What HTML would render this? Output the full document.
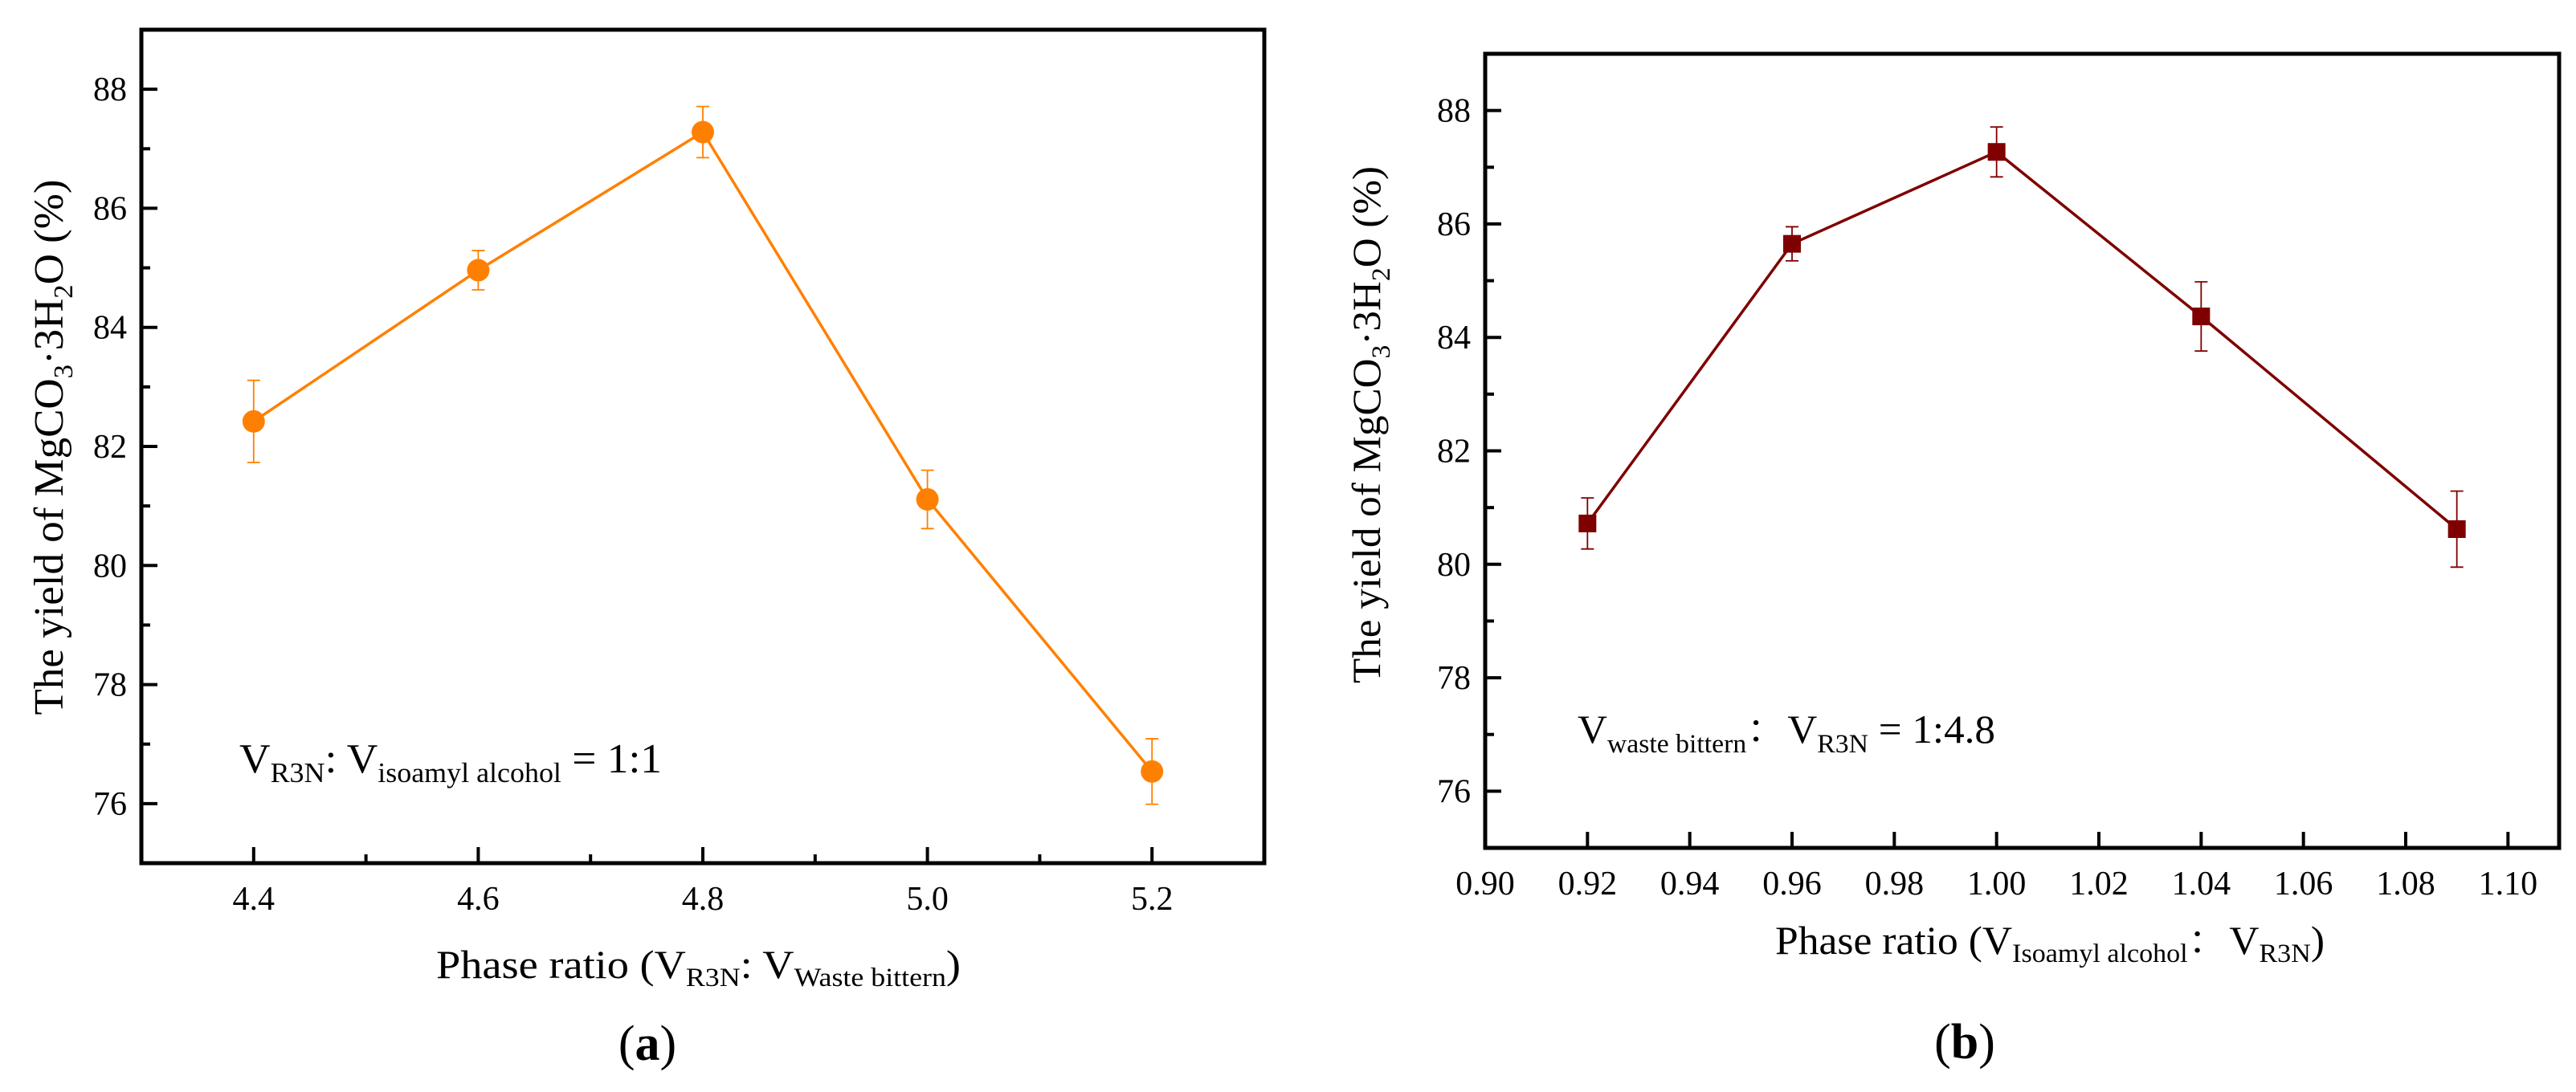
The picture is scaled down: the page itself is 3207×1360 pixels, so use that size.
<!DOCTYPE html>
<html><head><meta charset="utf-8"><style>
html,body{margin:0;padding:0;background:#fff;}
svg, svg text, svg tspan{font-family:"Liberation Serif","Noto Serif CJK SC",serif;}
</style></head><body>
<svg id="fig" width="3207" height="1355" viewBox="0 0 3207 1355" xmlns="http://www.w3.org/2000/svg" font-family="Liberation Serif, serif">
<g id="pa"></g>
<g id="pb"></g>
</svg>
<script>
// Panel a data
const aX = [4.4, 4.6, 4.8, 5.0, 5.2];
const aY = [82.42, 84.96, 87.28, 81.11, 76.54];
const aErr = [0.69, 0.33, 0.43, 0.49, 0.55];
const aXTicks = ["4.4","4.6","4.8","5.0","5.2"];
const aYTicks = ["76","78","80","82","84","86","88"];
// Panel b data
const bX = [0.92, 0.96, 1.00, 1.04, 1.09];
const bY = [80.72, 85.65, 87.27, 84.37, 80.62];
const bErr = [0.45, 0.30, 0.44, 0.61, 0.67];
const bXTicks = ["0.90","0.92","0.94","0.96","0.98","1.00","1.02","1.04","1.06","1.08","1.10"];
const bYTicks = ["76","78","80","82","84","86","88"];

const NS="http://www.w3.org/2000/svg";
function mk(parent, tag, attrs){const e=document.createElementNS(NS,tag);for(const k in attrs)e.setAttribute(k,attrs[k]);parent.appendChild(e);return e;}

function drawPanel(g, cfg, xs, ys, errs, xticks, yticks){
  const sx=v=>cfg.L+(v-cfg.x0)/(cfg.x1-cfg.x0)*(cfg.R-cfg.L);
  const sy=v=>cfg.B-(v-cfg.y0)/(cfg.y1-cfg.y0)*(cfg.B-cfg.T);
  for(let i=0;i<xticks.length;i++){
    const v=parseFloat(xticks[i]); const x=sx(v);
    const t=mk(g,'line',{x1:x,x2:x,y1:cfg.B,y2:cfg.B-20,stroke:'#000','stroke-width':4});
    
    
    const lb=mk(g,'text',{x:x,y:cfg.B+58,'font-size':42,'text-anchor':'middle','font-family':'Liberation Serif, serif'});
    lb.textContent=xticks[i];
    
    
  }
  for(const mv of cfg.xminor){
    const x=sx(mv);
    const t=mk(g,'line',{x1:x,x2:x,y1:cfg.B,y2:cfg.B-11,stroke:'#000','stroke-width':4});
    
    
  }
  for(let i=0;i<yticks.length;i++){
    const v=parseFloat(yticks[i]); const y=sy(v);
    const t=mk(g,'line',{x1:cfg.L,x2:cfg.L+20,y1:y,y2:y,stroke:'#000','stroke-width':4});
    
    
    const m=mk(g,'line',{x1:cfg.L,x2:cfg.L+11,y1:sy(v+1),y2:sy(v+1),stroke:'#000','stroke-width':4});
    
    
    const lb=mk(g,'text',{x:cfg.L-18,y:y+14,'font-size':42,'text-anchor':'end','font-family':'Liberation Serif, serif'});
    lb.textContent=yticks[i];
    
    
  }
  const pts=xs.map((v,i)=>sx(v)+','+sy(ys[i])).join(' ');
  const pl=mk(g,'polyline',{points:pts,fill:'none',stroke:cfg.color,'stroke-width':3.5});
  
  
  for(let i=0;i<xs.length;i++){
    const x=sx(xs[i]), y=sy(ys[i]), yt=sy(ys[i]+errs[i]), yb=sy(ys[i]-errs[i]);
    const eb=mk(g,'path',{d:`M${x},${yt}V${yb}M${x-8},${yt}H${x+8}M${x-8},${yb}H${x+8}`,stroke:cfg.color,'stroke-width':1.8,fill:'none'});
    
    
    let mkr;
    if(cfg.marker==='circle'){mkr=mk(g,'circle',{cx:x,cy:y,r:14,fill:cfg.color});}
    else{mkr=mk(g,'rect',{x:x-11,y:y-11,width:22,height:22,fill:cfg.color});}
    
    
  }
  const fr=mk(g,'rect',{x:cfg.L,y:cfg.T,width:cfg.R-cfg.L,height:cfg.B-cfg.T,fill:'none',stroke:'#000','stroke-width':5});
  
  
}

drawPanel(document.getElementById('pa'),
  {L:176,R:1574,T:37,B:1075,x0:4.3,x1:5.3,y0:75,y1:89,color:'#FF8000',marker:'circle',xminor:[4.5,4.7,4.9,5.1]},
  aX,aY,aErr,aXTicks,aYTicks);
drawPanel(document.getElementById('pb'),
  {L:1849,R:3186,T:67,B:1056,x0:0.90,x1:1.11,y0:75,y1:89,color:'#7F0000',marker:'square',xminor:[]},
  bX,bY,bErr,bXTicks,bYTicks);
</script>
<script>
(function(){
const svg=document.getElementById('fig');
svg.insertAdjacentHTML('beforeend',`
<g font-family="Liberation Serif, Noto Serif CJK SC, serif">
<text transform="translate(78,557) rotate(-90)" text-anchor="middle" font-size="52" textLength="667" lengthAdjust="spacingAndGlyphs">The yield of MgCO<tspan font-size="34" dy="12">3</tspan><tspan dy="-12">·3H</tspan><tspan font-size="34" dy="12">2</tspan><tspan dy="-12">O (%)</tspan></text>
<text x="543" y="1218" font-size="50" textLength="653" lengthAdjust="spacingAndGlyphs">Phase ratio (V<tspan font-size="33" dy="10">R3N</tspan><tspan dy="-10">: V</tspan><tspan font-size="33" dy="10">Waste bittern</tspan><tspan dy="-10">)</tspan></text>
<text x="298" y="962" font-size="52" textLength="526" lengthAdjust="spacingAndGlyphs">V<tspan font-size="35" dy="12">R3N</tspan><tspan dy="-12">: V</tspan><tspan font-size="35" dy="12">isoamyl alcohol</tspan><tspan dy="-12"> = 1:1</tspan></text>
<text x="806" y="1320" font-size="62" text-anchor="middle">(<tspan font-weight="bold">a</tspan>)</text>
<text transform="translate(1718,529) rotate(-90)" text-anchor="middle" font-size="50" textLength="644" lengthAdjust="spacingAndGlyphs">The yield of MgCO<tspan font-size="33" dy="12">3</tspan><tspan dy="-12">·3H</tspan><tspan font-size="33" dy="12">2</tspan><tspan dy="-12">O (%)</tspan></text>
<text x="2210" y="1188" font-size="50" textLength="684" lengthAdjust="spacingAndGlyphs">Phase ratio (V<tspan font-size="33" dy="10">Isoamyl alcohol</tspan><tspan dy="-10">：V</tspan><tspan font-size="33" dy="10">R3N</tspan><tspan dy="-10">)</tspan></text>
<text x="1964" y="925" font-size="50" textLength="520" lengthAdjust="spacingAndGlyphs">V<tspan font-size="33" dy="12">waste bittern</tspan><tspan dy="-12">：V</tspan><tspan font-size="33" dy="12">R3N</tspan><tspan dy="-12"> = 1:4.8</tspan></text>
<text x="2446" y="1318" font-size="62" text-anchor="middle">(<tspan font-weight="bold">b</tspan>)</text>
</g>
`);
})();
</script>
</body></html>
